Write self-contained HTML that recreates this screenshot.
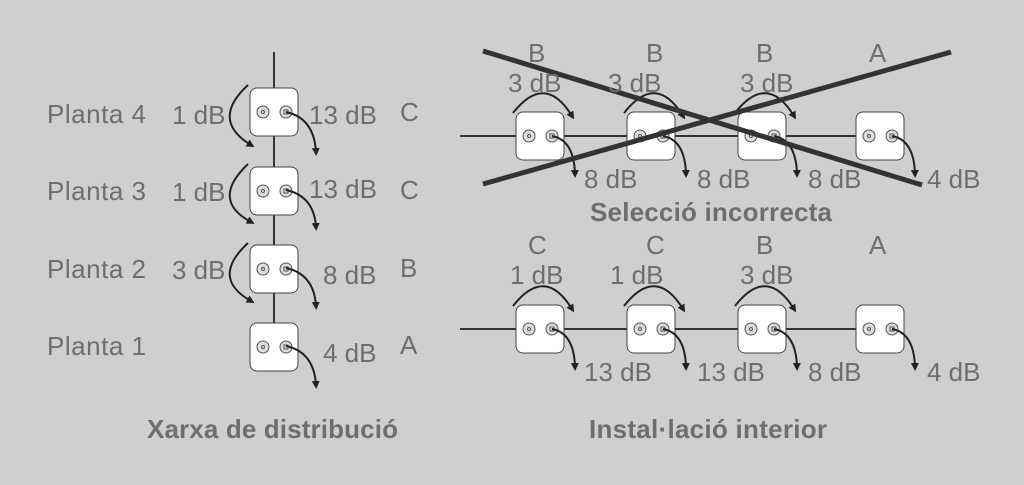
<!DOCTYPE html>
<html><head><style>body{margin:0;background:#cfcfcf}svg{display:block}text{font-family:"Liberation Sans",sans-serif;fill:#6e6e6e;font-size:26px}</style></head>
<body>
<svg width="1024" height="485" viewBox="0 0 1024 485">
<defs><marker id="a" markerWidth="8" markerHeight="8" refX="4" refY="4" orient="auto" markerUnits="userSpaceOnUse"><path d="M0,0 L8,4 L0,8 z" fill="#222"/></marker>
<g id="box"><rect x="0" y="0" width="48" height="48" rx="7" fill="#fff" stroke="#444" stroke-width="1"/><circle cx="13" cy="24" r="6" fill="#ddd" stroke="#555"/><circle cx="13" cy="24" r="1.5" fill="none" stroke="#555"/><circle cx="36" cy="24" r="6" fill="#ddd" stroke="#555"/><rect x="34" y="22" width="4" height="4" fill="none" stroke="#555"/></g>
</defs>
<g stroke="#333" stroke-width="2" fill="none">
<line x1="274" y1="52" x2="274" y2="323"/>
<line x1="460" y1="136" x2="857" y2="136"/>
<line x1="460" y1="329" x2="857" y2="329"/>
</g>
<use href="#box" x="250" y="88"/><use href="#box" x="250" y="167"/><use href="#box" x="250" y="245"/><use href="#box" x="250" y="323"/>
<use href="#box" x="516" y="112"/><use href="#box" x="627" y="112"/><use href="#box" x="738" y="112"/><use href="#box" x="856" y="112"/>
<use href="#box" x="516" y="305"/><use href="#box" x="627" y="305"/><use href="#box" x="738" y="305"/><use href="#box" x="856" y="305"/>
<g stroke="#222" stroke-width="2" fill="none" marker-end="url(#a)">
<path d="M248,85 Q210,120 251,145"/><path d="M248,164 Q210,200 251,222"/><path d="M248,243 Q210,278 251,301"/>
<path d="M286,112 Q314,118 316,152"/><path d="M286,190 Q314,196 316,227"/><path d="M286,268 Q314,274 316,306"/><path d="M286,346 Q314,352 316,385"/>
<path d="M513,113 Q545,72 572,116"/><path d="M624,113 Q656,72 683,116"/><path d="M735,113 Q767,72 794,116"/>
<path d="M513,306 Q545,265 572,309"/><path d="M624,306 Q656,265 683,309"/><path d="M735,306 Q767,265 794,309"/>
<path d="M552,136 Q574,140 575,174"/><path d="M663,136 Q685,140 686,174"/><path d="M774,136 Q796,140 797,174"/><path d="M892,136 Q914,140 915,174"/>
<path d="M552,329 Q574,333 575,367"/><path d="M663,329 Q685,333 686,367"/><path d="M774,329 Q796,333 797,367"/><path d="M892,329 Q914,333 915,367"/>
</g>
<g stroke="#333" stroke-width="5"><line x1="483" y1="51" x2="922" y2="185"/><line x1="483" y1="184" x2="951" y2="52"/></g>
<text x="47" y="123" textLength="99">Planta 4</text><text x="47" y="200" textLength="99">Planta 3</text><text x="47" y="278" textLength="99">Planta 2</text><text x="47" y="355" textLength="99">Planta 1</text>
<text x="172" y="124">1 dB</text><text x="172" y="201">1 dB</text><text x="172" y="279">3 dB</text>
<text x="309" y="124">13 dB</text><text x="309" y="198">13 dB</text><text x="323" y="284">8 dB</text><text x="323" y="362">4 dB</text>
<text x="400" y="121">C</text><text x="400" y="199">C</text><text x="400" y="277">B</text><text x="400" y="354">A</text>
<text x="528" y="62">B</text><text x="646" y="62">B</text><text x="756" y="62">B</text><text x="869" y="62">A</text>
<text x="508" y="92">3 dB</text><text x="608" y="92">3 dB</text><text x="740" y="92">3 dB</text>
<text x="584" y="188">8 dB</text><text x="697" y="188">8 dB</text><text x="808" y="188">8 dB</text><text x="927" y="188">4 dB</text>
<text x="528" y="254">C</text><text x="646" y="254">C</text><text x="756" y="254">B</text><text x="869" y="254">A</text>
<text x="510" y="284">1 dB</text><text x="610" y="284">1 dB</text><text x="740" y="284">3 dB</text>
<text x="584" y="381">13 dB</text><text x="697" y="381">13 dB</text><text x="808" y="381">8 dB</text><text x="927" y="381">4 dB</text>
<text x="147" y="438" textLength="251" style="font-weight:bold;font-size:26px">Xarxa de distribució</text><text x="590" y="221" textLength="242" style="font-weight:bold;font-size:26px">Selecció incorrecta</text><text x="589" y="438" textLength="238" style="font-weight:bold;font-size:26px">Instal·lació interior</text>
</svg>
</body></html>
